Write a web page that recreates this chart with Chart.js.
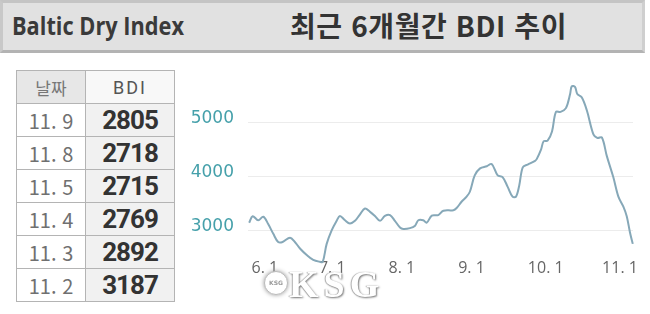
<!DOCTYPE html>
<html lang="ko">
<head>
<meta charset="utf-8">
<script src="https://cdn.jsdelivr.net/npm/chart.js@4/dist/chart.umd.min.js"></script>
<style>
  html, body { margin: 0; padding: 0; }
  body { width: 650px; height: 314px; position: relative; background: #fff; overflow: hidden; }
  .header {
    position: absolute; left: 0; top: 0; width: 639px; height: 47px;
    background: #e1e1e1;
    border-top: 3px solid #c4c4c4; border-left: 3px solid #c8c8c8;
    border-right: 3px solid #cfcfcf; border-bottom: 3px solid #b3b3b3;
  }
  .sub {
    position: absolute; left: 9px; top: 5px; margin: 0;
    font: 700 25px "Open Sans", sans-serif; color: #3a3a3a;
    transform: scaleX(0.87); transform-origin: left center; white-space: nowrap;
  }
  .title {
    position: absolute; left: 287px; top: 2px; margin: 0;
    font: 700 28px "Noto Sans CJK KR", sans-serif; color: #333; white-space: nowrap;
    letter-spacing: 0.6px;
  }
  table {
    position: absolute; left: 16px; top: 70px; border-collapse: collapse;
  }
  td, th {
    border: 1px solid #b4b4b4; height: 32px; padding: 0; text-align: center;
  }
  th { font-weight: 400; }
  th.d { width: 68px; background: #e7e7e7; font: 400 17px "Noto Sans CJK KR", sans-serif; color: #777; }
  th.v { width: 88px; background: #f8f8f8; font: 400 18px Roboto, sans-serif; color: #555; letter-spacing: 2px; }
  td.d { background: #fff; font: 400 20px "Noto Sans CJK KR", sans-serif; color: #707070; }
  td.v { background: #f1f1f1; font: 700 26px Roboto, sans-serif; color: #333; letter-spacing: -1px; }
  #wrap { position: absolute; left: 185px; top: 60px; width: 465px; height: 254px; }
  .mark {
    position: absolute; left: 289px; top: 262px;
    font: 700 38px "Liberation Serif", serif; color: #fff; letter-spacing: 5px;
    text-shadow: 1px 1px 2px #777, -1px 0 1px #aaa;
  }
  .logo {
    position: absolute; left: 264px; top: 271px; width: 22px; height: 22px; border-radius: 50%;
    background: #fff; border: 1px solid #bbb; box-shadow: 0 0 4px #999;
    font: 700 6px "DejaVu Sans", sans-serif; color: #999; text-align: center; line-height: 22px;
  }
</style>
</head>
<body>
<div class="header">
  <div class="sub">Baltic Dry Index</div>
  <div class="title">최근 6개월간 BDI 추이</div>
</div>

<table id="tbl"></table>

<div id="wrap"><canvas id="bdiChart"></canvas></div>
<div class="logo">KSG</div>
<div class="mark">KSG</div>

<script>
// table (latest days)
const tableDates = ["11. 9", "11. 8", "11. 5", "11. 4", "11. 3", "11. 2"];
const tableValues = [2805, 2718, 2715, 2769, 2892, 3187];

// line: days counted from 6.1
const dayOffsets = [
  -6.8, -5.3, -2.9, -0.7, 1.4, 3.6, 5.7, 7.6, 10.8, 12.9, 15.1, 18.0, 20.8, 23.7, 24.9, 26.6,
  28.7, 30.9, 32.3, 34.5, 36.6, 38.8, 40.9, 43.1, 45.3, 47.4, 49.6, 51.7, 53.9, 56.0, 58.2, 59.6,
  62.5, 64.7, 66.1, 68.2, 69.7, 71.9, 74.7, 76.9, 81.2, 82.6, 84.8, 86.9, 88.3, 90.4, 92.7, 95.6,
  97.7, 100.3, 102.4, 104.6, 106.7, 108.2, 109.6, 111.1, 113.2, 116.4, 117.1, 119.0, 120.1, 121.8,
  123.7, 125.4, 127.4, 129.7, 131.5, 132.2, 133.6, 134.6, 136.5, 138.7, 141.6, 143.3, 145.2, 147.3,
  150.1, 152.3, 154.4, 155.9, 157.3, 158.5
];
const bdiValues = [
  3150, 3270, 3195, 3260, 3125, 2945, 2795, 2795, 2875, 2795, 2675, 2555, 2465, 2430, 2430, 2760,
  3005, 3185, 3275, 3195, 3135, 3185, 3300, 3410, 3350, 3275, 3185, 3275, 3290, 3185, 3060, 3035,
  3050, 3095, 3195, 3195, 3150, 3280, 3290, 3370, 3380, 3420, 3540, 3630, 3720, 4020, 4150, 4190,
  4230, 4020, 3990, 3810, 3630, 3630, 3840, 4170, 4220, 4290, 4320, 4500, 4650, 4660,
  4830, 5190, 5190, 5260, 5520, 5660, 5650, 5520, 5460, 5220, 4770, 4710, 4720, 4380,
  3990, 3630, 3450, 3270, 2970, 2760
];

const tickDays = [0, 29, 59, 89, 121, 153];
const tickLabels = ["6. 1", "7. 1", "8. 1", "9. 1", "10. 1", "11. 1"];
const yTicks = [3000, 4000, 5000];

// build the table
const tbl = document.getElementById("tbl");
let html = '<tr><th class="d">날짜</th><th class="v">BDI</th></tr>';
tableDates.forEach((d, i) => {
  html += '<tr><td class="d">' + d + '</td><td class="v">' + tableValues[i] + '</td></tr>';
});
tbl.innerHTML = html;

new Chart(document.getElementById("bdiChart"), {
  type: "line",
  data: {
    datasets: [{
      data: dayOffsets.map((d, i) => ({ x: d, y: bdiValues[i] })),
      borderColor: "#86a8b8",
      borderWidth: 2,
      pointRadius: 0,
      tension: 0.35,
      fill: false,
      clip: false // line dips a little below the axis, like the original
    }]
  },
  options: {
    responsive: true,
    maintainAspectRatio: false,
    animation: false,
    layout: { padding: { left: 0, right: 17, top: 20, bottom: 0 } },
    plugins: { legend: { display: false }, tooltip: { enabled: false } },
    scales: {
      x: {
        type: "linear",
        min: -7.3,
        max: 158.6,
        grid: { display: false },
        border: { display: false },
        afterBuildTicks: (axis) => { axis.ticks = tickDays.map(v => ({ value: v })); },
        afterFit: (scale) => { scale.height = 56; },
        ticks: {
          autoSkip: false,
          maxRotation: 0,
          padding: -7,
          color: "#666",
          font: { family: "'Open Sans', sans-serif", size: 16 },
          callback: (v, i) => tickLabels[i]
        }
      },
      y: {
        min: 2500,
        max: 5700,
        grid: { color: "#ececec", lineWidth: 1, drawTicks: false },
        border: { display: false },
        afterBuildTicks: (axis) => { axis.ticks = yTicks.map(v => ({ value: v })); },
        afterFit: (scale) => { scale.width = 63; },
        ticks: {
          padding: 14,
          labelOffset: -4,
          color: "#45a0aa",
          font: { family: "'DejaVu Sans', sans-serif", size: 17 },
          callback: (v) => String(v)
        }
      }
    }
  }
});
</script>
</body>
</html>
